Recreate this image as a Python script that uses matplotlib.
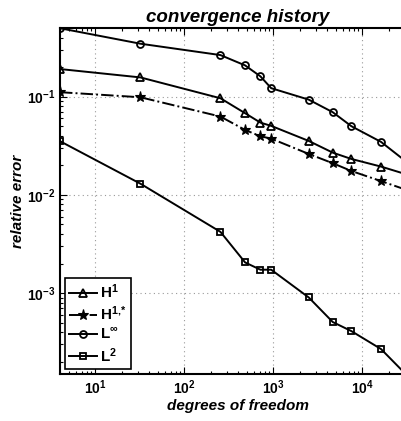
import matplotlib
matplotlib.use("Agg")
import matplotlib.pyplot as plt
from matplotlib.ticker import LogLocator, NullFormatter

dofs = [4, 32, 254, 481, 714, 944, 2496, 4645, 7520, 16200, 40000]
err_h1 = [0.191, 0.157, 0.0963, 0.0678, 0.0544, 0.0504, 0.0354, 0.0269, 0.0232, 0.0194, 0.0151]
err_h1s = [0.111, 0.0986, 0.0627, 0.0458, 0.0395, 0.0374, 0.0261, 0.021, 0.0175, 0.0138, 0.0104]
err_linf = [0.497, 0.346, 0.265, 0.208, 0.161, 0.122, 0.0932, 0.0694, 0.05, 0.0346, 0.0182]
err_l2 = [0.0352, 0.013, 0.0042, 0.00205, 0.00173, 0.00173, 0.000902, 0.000507, 0.00041, 0.000269, 0.000117]

labels = ["H$^{\\mathbf{1}}$", "H$^{\\mathbf{1,}\\!\\mathbf{*}}$", "L$^{\\mathbf{\\infty}}$", "L$^{\\mathbf{2}}$"]
title = "convergence history"
xlabel = "degrees of freedom"
ylabel = "relative error"

plt.rcParams['font.family'] = ['Liberation Sans', 'DejaVu Sans']
plt.rcParams['mathtext.fontset'] = 'custom'
plt.rcParams['mathtext.rm'] = 'Liberation Sans:bold'
plt.rcParams['mathtext.bf'] = 'Liberation Sans:bold'
plt.rcParams['mathtext.it'] = 'Liberation Sans:bold'

fig = plt.figure(figsize=(4.02, 4.21), dpi=100)
ax = fig.add_axes([60/402, 47/421, 356/402, 346/421])

lw = 1.4
ax.plot(dofs, err_h1, '-', color='k', lw=lw, marker='^', ms=5.5, mfc='none', mec='k', mew=1.3, label=labels[0])
ax.plot(dofs, err_h1s, '-.', color='k', lw=lw, marker='*', ms=8, mfc='k', mec='k', mew=0.8, label=labels[1])
ax.plot(dofs, err_linf, '-', color='k', lw=lw, marker='o', ms=5, mfc='none', mec='k', mew=1.3, label=labels[2])
ax.plot(dofs, err_l2, '-', color='k', lw=lw, marker='s', ms=4, mfc='none', mec='k', mew=1.3, label=labels[3])

ax.set_xscale('log')
ax.set_yscale('log')
ax.set_xlim(4, 40000)
ax.set_ylim(1.5e-4, 0.5)

ax.xaxis.set_major_locator(LogLocator(base=10, numticks=10))
ax.yaxis.set_major_locator(LogLocator(base=10, numticks=10))
ax.xaxis.set_minor_locator(LogLocator(base=10, subs=range(2, 10), numticks=10))
ax.yaxis.set_minor_locator(LogLocator(base=10, subs=range(2, 10), numticks=10))
ax.xaxis.set_minor_formatter(NullFormatter())
ax.yaxis.set_minor_formatter(NullFormatter())

ax.grid(True, which='major', linestyle=(0, (1, 3)), color='#999999', lw=0.8)
ax.tick_params(which='both', direction='in', top=True, right=True, labelsize=10, width=0.8)
ax.tick_params(which='major', length=5)
ax.tick_params(which='minor', length=2.5)
for lab in ax.get_xticklabels() + ax.get_yticklabels():
    lab.set_fontweight('bold')
for sp in ax.spines.values():
    sp.set_linewidth(1.5)

ax.set_title(title, fontsize=13.5, fontweight='bold', fontstyle='italic', pad=4)
ax.set_xlabel(xlabel, fontsize=11, fontweight='bold', fontstyle='italic', labelpad=1)
ax.set_ylabel(ylabel, fontsize=11, fontweight='bold', fontstyle='italic', labelpad=1)

leg = ax.legend(loc='lower left', fancybox=False, edgecolor='k', framealpha=1,
                prop={'weight': 'bold', 'size': 11}, handlelength=1.8, handletextpad=0.2,
                borderaxespad=0.3, labelspacing=0.25, borderpad=0.3)
leg.get_frame().set_linewidth(1.2)

fig.savefig('out.png', dpi=100)
